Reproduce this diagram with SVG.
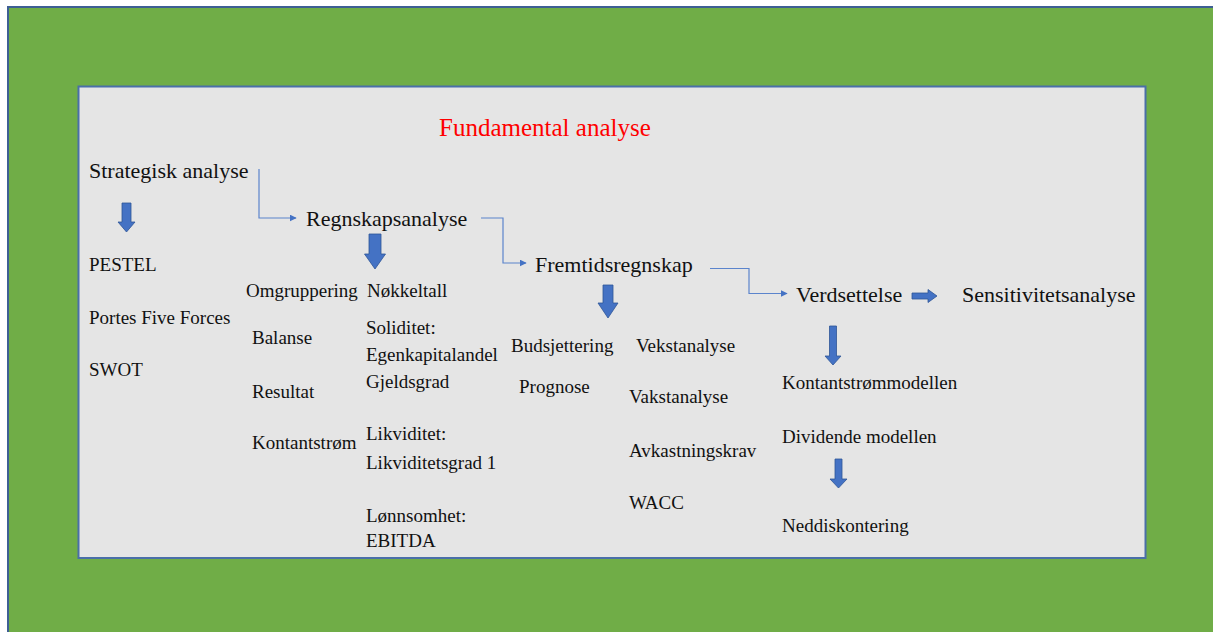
<svg xmlns="http://www.w3.org/2000/svg" width="1213" height="632" viewBox="0 0 1213 632">
  <style>
    text { font-family: 'Liberation Serif', 'Times New Roman', Times, serif; fill: #111; }
    .big { font-size: 22px; }
    .small { font-size: 19px; }
    .title { font-size: 25px; fill: #ff0000; }
    .link { fill: none; stroke: #5b84cc; stroke-width: 1.2; marker-end: url(#tip); }
    .fat { fill: #4472c4; stroke: #2f5597; stroke-width: 0.8; }
  </style>
  <defs>
    <marker id="tip" viewBox="0 0 10 10" refX="9" refY="5" markerWidth="7" markerHeight="7" markerUnits="userSpaceOnUse" orient="auto">
      <path d="M0,0 L10,5 L0,10 Z" fill="#4472c4"/>
    </marker>
  </defs>

  <!-- background frame -->
  <rect x="0" y="0" width="1213" height="632" fill="#ffffff"/>
  <rect x="8" y="7" width="1215" height="635" fill="#70ad47" stroke="#3e5f94" stroke-width="2"/>
  <rect x="78.5" y="86.5" width="1067" height="471.5" fill="#e5e5e5" stroke="#4a6fa8" stroke-width="2"/>

  <g font-family="Liberation Serif, serif">
  <text class="title" x="439" y="136">Fundamental analyse</text>

  <!-- connectors -->
  <g id="connectors">
    <path class="link" d="M259,169 V218 H296"/>
    <path class="link" d="M481,218 H503 V263 H526"/>
    <path class="link" d="M710,268.5 H749 V293.5 H787"/>
    <path class="fat" d="M122,203 H131 V222 H135 L126.5,232 L118,222 H122 Z"/>
    <path class="fat" d="M369,234 H381 V254 H385.5 L375,269 L364.5,254 H369 Z"/>
    <path class="fat" d="M603,285 H613 V303 H618 L608,318 L598,303 H603 Z"/>
    <path class="fat" d="M829.5,326 H836.5 V356 H841 L833,365 L825,356 H829.5 Z"/>
    <path class="fat" d="M835,459 H842 V479 H847 L838.5,488 L830,479 H835 Z"/>
    <path class="fat" d="M912,293 H928 V289.5 L937,296 L928,302.5 V299 H912 Z"/>
  </g>

  <g id="strategisk">
    <text class="big" x="89" y="178">Strategisk analyse</text>
    <text class="small" x="89" y="271">PESTEL</text>
    <text class="small" x="89" y="324">Portes Five Forces</text>
    <text class="small" x="89" y="376">SWOT</text>
  </g>

  <g id="regnskapsanalyse">
    <text class="big" x="306" y="226">Regnskapsanalyse</text>
    <text class="small" x="246" y="297">Omgruppering</text>
    <text class="small" x="252" y="344">Balanse</text>
    <text class="small" x="252" y="398">Resultat</text>
    <text class="small" x="252" y="449">Kontantstrøm</text>
    <text class="small" x="367" y="297">Nøkkeltall</text>
    <text class="small" x="366" y="334">Soliditet:</text>
    <text class="small" x="366" y="361">Egenkapitalandel</text>
    <text class="small" x="366" y="388">Gjeldsgrad</text>
    <text class="small" x="366" y="440">Likviditet:</text>
    <text class="small" x="366" y="469">Likviditetsgrad 1</text>
    <text class="small" x="366" y="522">Lønnsomhet:</text>
    <text class="small" x="366" y="547">EBITDA</text>
  </g>

  <g id="fremtidsregnskap">
    <text class="big" x="535" y="272">Fremtidsregnskap</text>
    <text class="small" x="511" y="352">Budsjettering</text>
    <text class="small" x="519" y="393">Prognose</text>
    <text class="small" x="636" y="352">Vekstanalyse</text>
    <text class="small" x="629" y="403">Vakstanalyse</text>
    <text class="small" x="629" y="457">Avkastningskrav</text>
    <text class="small" x="629" y="509">WACC</text>
  </g>

  <g id="verdsettelse">
    <text class="big" x="796" y="302">Verdsettelse</text>
    <text class="small" x="782" y="389">Kontantstrømmodellen</text>
    <text class="small" x="782" y="443">Dividende modellen</text>
    <text class="small" x="782" y="532">Neddiskontering</text>
  </g>

  <g id="sensitivitet">
    <text class="big" x="962" y="302">Sensitivitetsanalyse</text>
  </g>
  </g>
</svg>
